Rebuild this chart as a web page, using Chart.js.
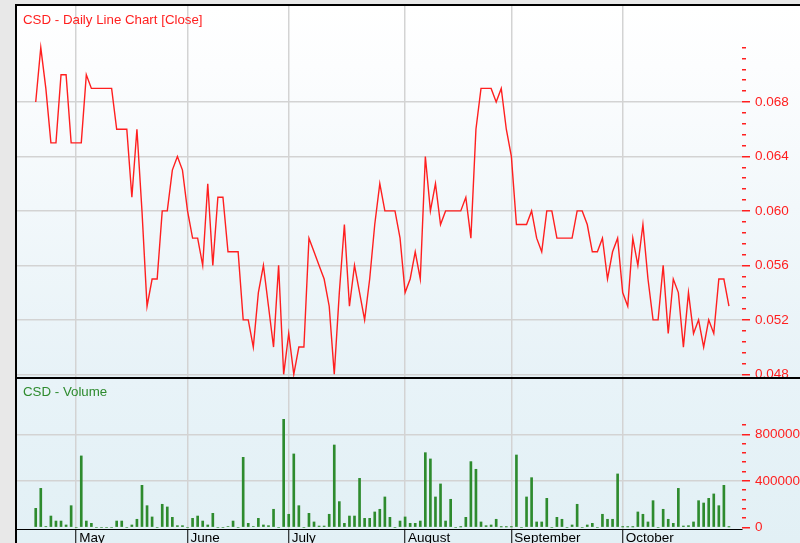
<!DOCTYPE html>
<html>
<head>
<meta charset="utf-8">
<script src="https://cdn.jsdelivr.net/npm/chart.js@4/dist/chart.umd.min.js"></script>
<style>
html,body{margin:0;padding:0;width:800px;height:543px;overflow:hidden;background:#e8e8e8;font-family:'Liberation Sans',Arial,sans-serif;}
#frame{position:absolute;left:15px;top:4px;width:785px;height:539px;border-left:2px solid #000;border-top:2px solid #000;box-sizing:border-box;}
#pricebox{position:absolute;left:17px;top:6px;width:783px;height:371px;background:linear-gradient(to bottom,#ffffff 0px,#fcfdfe 60px,#f2f8fb 200px,#e7f2f7 371px);}
#sep{position:absolute;left:17px;top:377px;width:783px;height:2px;background:#000;}
#volbox{position:absolute;left:17px;top:379px;width:783px;height:164px;background:linear-gradient(to bottom,#e8f3f8 0px,#e2f0f5 164px);}
canvas{position:absolute;left:0;top:0;}
.ttl{position:absolute;font-size:13.3px;line-height:15px;white-space:nowrap;z-index:5;}
</style>
</head>
<body>
<div id="frame"></div>
<div id="pricebox"><canvas id="price" width="783" height="371"></canvas></div>
<div id="sep"></div>
<div id="volbox"><canvas id="vol" width="783" height="164"></canvas></div>
<div class="ttl" style="left:23px;top:12px;color:#ff1f1f;">CSD - Daily Line Chart [Close]</div>
<div class="ttl" style="left:23px;top:384px;color:#2e8b2e;">CSD - Volume</div>
<script>
// Daily closing price, one value per trading day (late April to end of October)
const closes = [
  0.068,0.072,0.069,0.065,0.065,0.070,0.070,0.065,0.065,0.065,
  0.070,0.069,0.069,0.069,0.069,0.069,0.066,0.066,0.066,0.061,
  0.066,0.060,0.053,0.055,0.055,0.060,0.060,0.063,0.064,0.063,
  0.060,0.058,0.058,0.056,0.062,0.056,0.061,0.061,0.057,0.057,
  0.057,0.052,0.052,0.050,0.054,0.056,0.053,0.050,0.056,0.048,
  0.051,0.048,0.050,0.050,0.058,0.057,0.056,0.055,0.053,0.048,
  0.054,0.059,0.053,0.056,0.054,0.052,0.055,0.059,0.062,0.060,
  0.060,0.060,0.058,0.054,0.055,0.057,0.055,0.064,0.060,0.062,
  0.059,0.060,0.060,0.060,0.060,0.061,0.058,0.066,0.069,0.069,
  0.069,0.068,0.069,0.066,0.064,0.059,0.059,0.059,0.060,0.058,
  0.057,0.060,0.060,0.058,0.058,0.058,0.058,0.060,0.060,0.059,
  0.057,0.057,0.058,0.055,0.057,0.058,0.054,0.053,0.058,0.056,
  0.059,0.055,0.052,0.052,0.056,0.051,0.055,0.054,0.050,0.054,
  0.051,0.052,0.050,0.052,0.051,0.055,0.055,0.053
];
// Daily volume, same trading days
const volumes = [
  163000,335000,5000,97000,54000,54000,20000,186000,0,614000,
  54000,34000,0,0,0,0,54000,54000,0,20000,
  69000,361000,186000,89000,0,198000,175000,86000,14000,14000,
  0,77000,97000,54000,20000,120000,0,0,6000,54000,
  0,602000,34000,6000,77000,20000,14000,155000,0,929000,
  112000,631000,186000,0,120000,46000,11000,11000,112000,708000,
  221000,34000,97000,97000,421000,77000,77000,132000,155000,261000,
  86000,0,54000,89000,34000,34000,54000,642000,588000,261000,
  373000,54000,241000,0,3000,86000,565000,499000,46000,14000,
  20000,69000,3000,3000,3000,622000,0,261000,427000,46000,
  46000,249000,0,86000,69000,0,20000,198000,0,20000,
  34000,0,112000,69000,69000,459000,3000,3000,3000,132000,
  112000,46000,229000,0,155000,69000,34000,335000,11000,14000,
  46000,229000,209000,249000,287000,186000,361000,3000
];
// First trading day of each month (index into the series) and month names
const monthStarts = [8, 30, 50, 73, 94, 116];
const monthNames  = ['May', 'June', 'July', 'August', 'September', 'October'];
// Axis tick settings
const priceTicks = {first: 0.048, step: 0.0008, count: 31, labelEvery: 5, lastMajor: 0.068};
const volTicks   = {first: 0, step: 80000, count: 12, labelEvery: 5, lastMajor: 800000};

const RED = '#ff1f1f', GREEN = '#2e8b2e', GRID = '#d3d3d3';
const X_MIN = -3.7, X_MAX = 139.58;

Chart.defaults.font.family = "'Liberation Sans', Arial, sans-serif";
Chart.defaults.font.size = 13.5;

function tickList(t){ const a=[]; for(let k=0;k<t.count;k++){ a.push({value: +(t.first + k*t.step).toFixed(6)}); } return a; }
function isMajor(t, idx, val){ return idx % t.labelEvery === 0 && val <= t.lastMajor + 1e-9; }

const xScale = (showLabels) => ({
  type: 'linear', min: X_MIN, max: X_MAX, offset: false,
  afterBuildTicks: s => { s.ticks = monthStarts.map(v => ({value: v})); },
  afterFit: s => { s.height = showLabels ? 14 : 0; s.paddingLeft = 0; s.paddingRight = 0; },
  ticks: showLabels ? {display: true, color: '#000', align: 'start', labelOffset: 3, padding: -13,
           autoSkip: false, maxRotation: 0, minRotation: 0, callback: (v, i) => monthNames[i]}
         : {display: false},
  grid: showLabels ? {color: GRID, lineWidth: 1.5, offset: false, drawTicks: true, tickLength: 14, tickColor: '#000', tickWidth: 1}
        : {color: GRID, lineWidth: 1.5, offset: false, drawTicks: false},
  border: showLabels ? {display: true, color: '#000', width: 1} : {display: false}
});

const yScale = (t, min, max, fmt, gridZero) => ({
  position: 'right', min: min, max: max,
  afterBuildTicks: s => { s.ticks = tickList(t); },
  afterFit: s => { s.width = 58; s.paddingTop = 0; s.paddingBottom = 0; },
  ticks: {color: RED, padding: 5, autoSkip: false,
          callback: (v, i) => isMajor(t, i, v) ? fmt(v) : ''},
  grid: {
    lineWidth: 1.5,
    color: c => (isMajor(t, c.index, c.tick.value) && (gridZero || c.tick.value !== 0)) ? GRID : 'rgba(0,0,0,0)',
    drawTicks: true, tickLength: 8, tickColor: RED, tickWidth: 1.5,
    tickBorderDash: c => isMajor(t, c.index, c.tick.value) ? [] : [4, 30]
  },
  border: {display: false}
});

const common = {
  responsive: false, animation: false, events: [],
  layout: {padding: 0},
  plugins: {legend: {display: false}, tooltip: {enabled: false}, title: {display: false}}
};

new Chart(document.getElementById('price'), {
  type: 'line',
  data: {datasets: [{data: closes.map((v, i) => ({x: i, y: v})), borderColor: RED, borderWidth: 1.4,
                     pointRadius: 0, tension: 0, fill: false}]},
  options: Object.assign({}, common, {
    scales: {
      x: xScale(false),
      y: yScale(priceTicks, 0.047802, 0.075051, v => v.toFixed(3), true)
    }
  })
});

new Chart(document.getElementById('vol'), {
  type: 'bar',
  data: {datasets: [{data: volumes.map((v, i) => ({x: i, y: v})), backgroundColor: GREEN,
                     borderWidth: 0, barThickness: 2}]},
  options: Object.assign({}, common, {
    scales: {
      x: xScale(true),
      y: yScale(volTicks, -14600, 1275700, v => String(Math.round(v)), false)
    }
  })
});
</script>
</body>
</html>
